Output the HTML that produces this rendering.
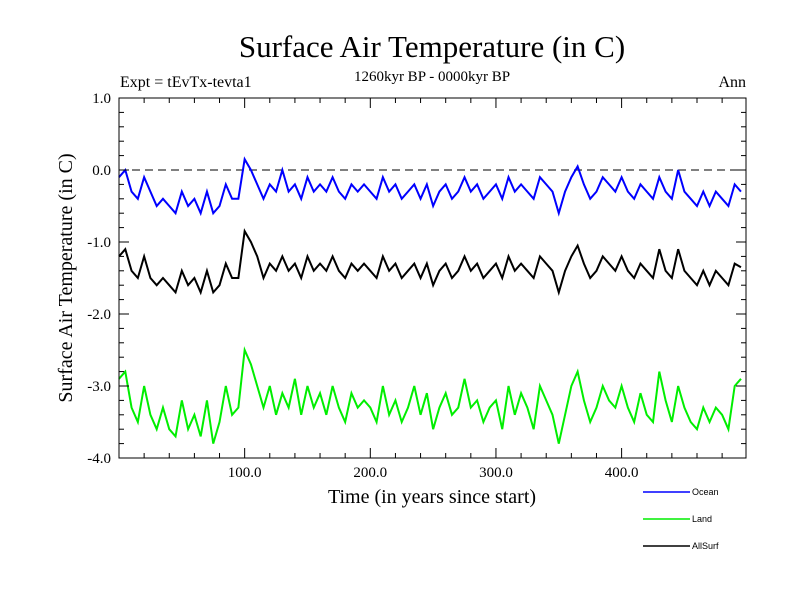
<!DOCTYPE html>
<html><head><meta charset="utf-8"><style>body{margin:0;background:#fff}svg text{font-family:"Liberation Serif",serif}</style></head>
<body>
<svg id="c" width="800" height="600" xmlns="http://www.w3.org/2000/svg">
<text x="432" y="57" font-size="31" text-anchor="middle">Surface Air Temperature (in C)</text>
<text x="120" y="87" font-size="16">Expt = tEvTx-tevta1</text>
<text x="432" y="81" font-size="15" text-anchor="middle">1260kyr BP - 0000kyr BP</text>
<text x="746" y="87" font-size="16" text-anchor="end">Ann</text>
<text x="432" y="503" font-size="20" text-anchor="middle">Time (in years since start)</text>
<text transform="translate(72,278) rotate(-90)" font-size="20" text-anchor="middle">Surface Air Temperature (in C)</text>
<g id="plot"></g>
</svg>
<script>
const years=[];for(let i=0;i<100;i++)years.push(i*5);
const ocean=[-0.1,0.0,-0.3,-0.4,-0.1,-0.3,-0.5,-0.4,-0.5,-0.6,-0.3,-0.5,-0.4,-0.6,-0.3,-0.6,-0.5,-0.2,-0.4,-0.4,
0.15,0.0,-0.2,-0.4,-0.2,-0.3,0.0,-0.3,-0.2,-0.4,-0.1,-0.3,-0.2,-0.3,-0.1,-0.3,-0.4,-0.2,-0.3,-0.2,
-0.3,-0.4,-0.1,-0.3,-0.2,-0.4,-0.3,-0.2,-0.4,-0.2,-0.5,-0.3,-0.2,-0.4,-0.3,-0.1,-0.3,-0.2,-0.4,-0.3,
-0.2,-0.4,-0.1,-0.3,-0.2,-0.3,-0.4,-0.1,-0.2,-0.3,-0.6,-0.3,-0.1,0.05,-0.2,-0.4,-0.3,-0.1,-0.2,-0.3,
-0.1,-0.3,-0.4,-0.2,-0.3,-0.4,-0.1,-0.3,-0.4,0.0,-0.3,-0.4,-0.5,-0.3,-0.5,-0.3,-0.4,-0.5,-0.2,-0.3];
const allsurf=[-1.2,-1.1,-1.4,-1.5,-1.2,-1.5,-1.6,-1.5,-1.6,-1.7,-1.4,-1.6,-1.5,-1.7,-1.4,-1.7,-1.6,-1.3,-1.5,-1.5,
-0.85,-1.0,-1.2,-1.5,-1.3,-1.4,-1.2,-1.4,-1.3,-1.5,-1.2,-1.4,-1.3,-1.4,-1.2,-1.4,-1.5,-1.3,-1.4,-1.3,
-1.4,-1.5,-1.2,-1.4,-1.3,-1.5,-1.4,-1.3,-1.5,-1.3,-1.6,-1.4,-1.3,-1.5,-1.4,-1.2,-1.4,-1.3,-1.5,-1.4,
-1.3,-1.5,-1.2,-1.4,-1.3,-1.4,-1.5,-1.2,-1.3,-1.4,-1.7,-1.4,-1.2,-1.05,-1.3,-1.5,-1.4,-1.2,-1.3,-1.4,
-1.2,-1.4,-1.5,-1.3,-1.4,-1.5,-1.1,-1.4,-1.5,-1.1,-1.4,-1.5,-1.6,-1.4,-1.6,-1.4,-1.5,-1.6,-1.3,-1.35];
const land=[-2.9,-2.8,-3.3,-3.5,-3.0,-3.4,-3.6,-3.3,-3.6,-3.7,-3.2,-3.6,-3.4,-3.7,-3.2,-3.8,-3.5,-3.0,-3.4,-3.3,
-2.5,-2.7,-3.0,-3.3,-3.0,-3.4,-3.1,-3.3,-2.9,-3.4,-3.0,-3.3,-3.1,-3.4,-3.0,-3.3,-3.5,-3.1,-3.3,-3.2,
-3.3,-3.5,-3.0,-3.4,-3.2,-3.5,-3.3,-3.0,-3.4,-3.1,-3.6,-3.3,-3.1,-3.4,-3.3,-2.9,-3.3,-3.2,-3.5,-3.3,
-3.2,-3.6,-3.0,-3.4,-3.1,-3.3,-3.6,-3.0,-3.2,-3.4,-3.8,-3.4,-3.0,-2.8,-3.2,-3.5,-3.3,-3.0,-3.2,-3.3,
-3.0,-3.3,-3.5,-3.1,-3.4,-3.5,-2.8,-3.2,-3.5,-3.0,-3.3,-3.5,-3.6,-3.3,-3.5,-3.3,-3.4,-3.6,-3.0,-2.9];
const yTicks=[1.0,0.0,-1.0,-2.0,-3.0,-4.0];
const yTickLabels=["1.0","0.0","-1.0","-2.0","-3.0","-4.0"];
const xTicks=[100,200,300,400];
const xTickLabels=["100.0","200.0","300.0","400.0"];
const seriesNames=["Ocean","Land","AllSurf"];

const L=119,R=746,T=98,B=458,X0=0,X1=499,Y0=-4,Y1=1;
const sx=v=>L+(v-X0)/(X1-X0)*(R-L);
const sy=v=>B-(v-Y0)/(Y1-Y0)*(B-T);
const NS="http://www.w3.org/2000/svg";
const g=document.getElementById('plot');
function mk(t,a){const e=document.createElementNS(NS,t);for(const k in a)e.setAttribute(k,a[k]);g.appendChild(e);return e;}

let e=mk('line',{x1:L,x2:R,y1:sy(0),y2:sy(0),stroke:'#000','stroke-dasharray':'8,5','stroke-width':1});



const colors=['#0000ff','#00ee00','#000000'];
[ocean,land,allsurf].forEach((s,k)=>{
  const p=mk('polyline',{points:s.map((v,i)=>sx(years[i])+','+sy(v)).join(' '),fill:'none',stroke:colors[k],'stroke-width':2});
  
  
});

e=mk('rect',{x:L,y:T,width:R-L,height:B-T,fill:'none',stroke:'#000','stroke-width':1});



for(let v=-4;v<=1.001;v+=0.2){
  const y=sy(v);const major=Math.abs(v-Math.round(v))<0.01;const len=major?10:5;
  mk('line',{x1:L,x2:L+len,y1:y,y2:y,stroke:'#000'});
  mk('line',{x1:R,x2:R-len,y1:y,y2:y,stroke:'#000'});
}
yTicks.forEach((v,i)=>{
  const t=mk('text',{x:111,y:sy(v)+5,'font-size':15,'text-anchor':'end'});t.textContent=yTickLabels[i];
  
  
});
for(let v=20;v<X1;v+=20){
  const x=sx(v);const len=v%100===0?10:5;
  mk('line',{x1:x,x2:x,y1:B,y2:B-len,stroke:'#000'});
  mk('line',{x1:x,x2:x,y1:T,y2:T+len,stroke:'#000'});
}
xTicks.forEach((v,i)=>{
  const t=mk('text',{x:sx(v),y:477,'font-size':15,'text-anchor':'middle'});t.textContent=xTickLabels[i];
  
  
});
const legY=[492,519,546];
seriesNames.forEach((n,k)=>{
  const l=mk('line',{x1:643,x2:690,y1:legY[k],y2:legY[k],stroke:colors[k],'stroke-width':1.5});
  
  
  const t=mk('text',{x:692,y:legY[k]+3,'font-size':9,style:'font-family:"Liberation Sans",sans-serif'});t.textContent=n;
  
  
});
</script>
</body></html>
